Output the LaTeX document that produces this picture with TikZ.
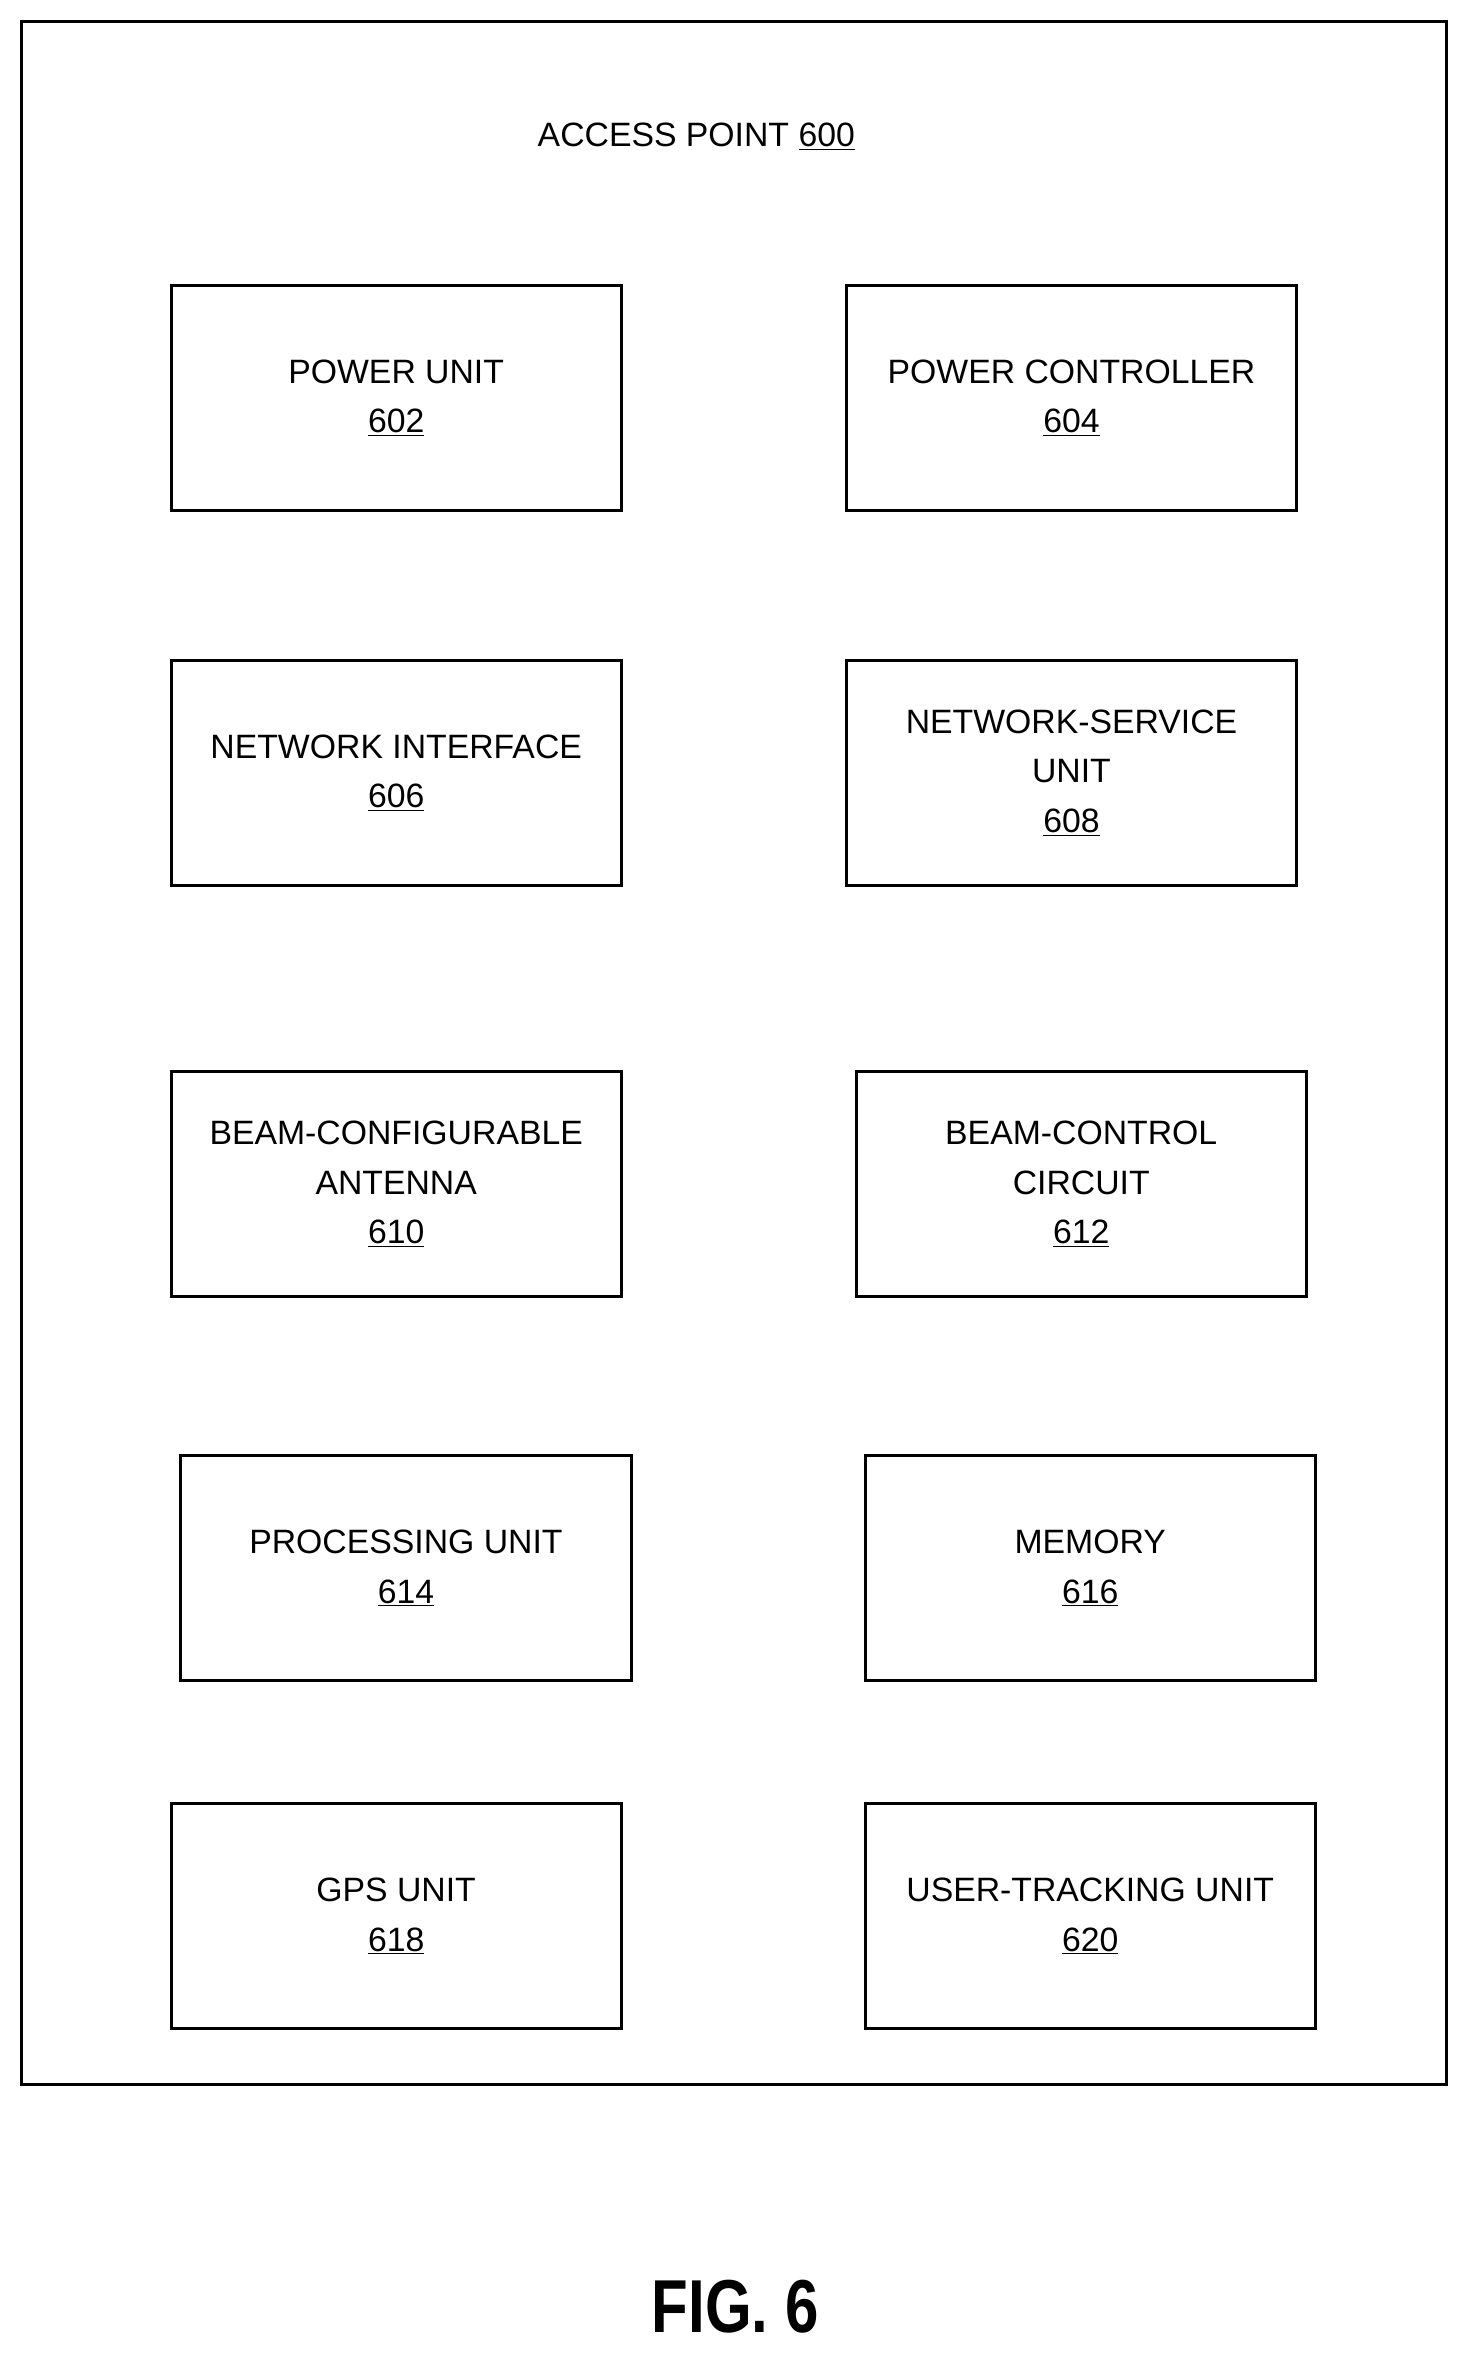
\documentclass[tikz,border=0pt]{standalone}
\usepackage{fontspec}
\setmainfont{Liberation Sans}
\begin{document}
\begin{tikzpicture}[x=1pt,y=-1pt,
 blk/.style={draw,line width=2pt,minimum width=300pt,minimum height=150pt,align=center,font=\fontsize{22.5}{33}\selectfont,inner sep=0pt},
 lbl/.style={font=\fontsize{22.5}{33}\selectfont}]
\useasboundingbox (0,0) rectangle (979,1568);
\draw[line width=2pt] (14,14) rectangle (964,1389);
\node[lbl] (title) at (464,91) {ACCESS POINT \underline{600}};
\node[blk] (b602) at (264,265) {POWER UNIT\\\underline{602}};
\node[blk] (b604) at (714,265) {POWER CONTROLLER\\\underline{604}};
\node[blk] (b606) at (264,515) {NETWORK INTERFACE\\\underline{606}};
\node[blk] (b608) at (714,515) {NETWORK-SERVICE\\UNIT\\\underline{608}};
\node[blk] (b610) at (264,789) {BEAM-CONFIGURABLE\\ANTENNA\\\underline{610}};
\node[blk] (b612) at (720.5,789) {BEAM-CONTROL\\CIRCUIT\\\underline{612}};
\node[blk] (b614) at (270.5,1045) {PROCESSING UNIT\\\underline{614}};
\node[blk] (b616) at (726.5,1045) {MEMORY\\\underline{616}};
\node[blk] (b618) at (264,1277) {GPS UNIT\\\underline{618}};
\node[blk] (b620) at (726.5,1277) {USER-TRACKING UNIT\\\underline{620}};
\node[font=\fontsize{50}{56}\selectfont\bfseries,xscale=0.8] (fig) at (490,1537) {FIG. 6};
\end{tikzpicture}
\end{document}
